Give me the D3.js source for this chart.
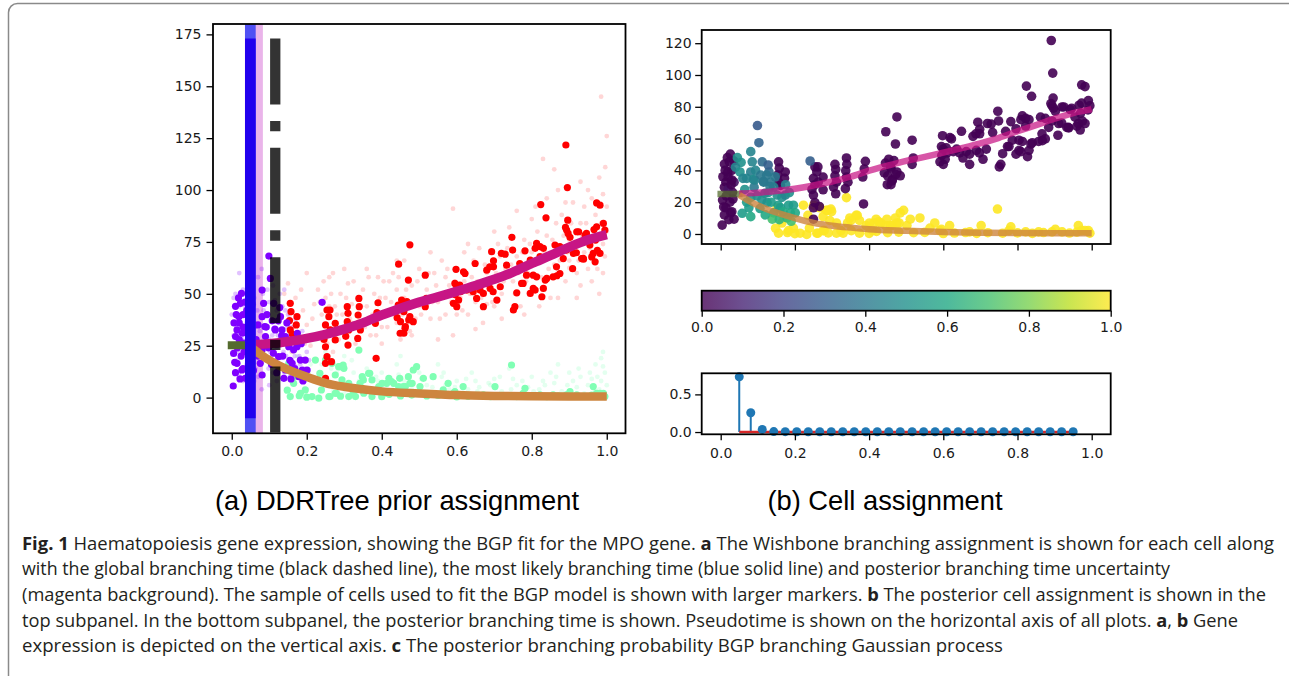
<!DOCTYPE html>
<html><head><meta charset="utf-8">
<script src="https://cdn.jsdelivr.net/npm/d3@7"></script>
<style>body{margin:0;background:#fff}svg{display:block}
.tk text{font-family:'DejaVu Sans',sans-serif !important;font-size:14px !important;fill:#1a1a1a}
</style>
</head><body><svg id="c" width="1289" height="676"></svg>
<script>
// ---------------- DATA ----------------
const xTicks = [0, 0.2, 0.4, 0.6, 0.8, 1.0];
const leftYTicks = [0, 25, 50, 75, 100, 125, 150, 175];
const rightYTicks = [0, 20, 40, 60, 80, 100, 120];
const stemYTicks = [0, 0.5];
const cbarTicks = [0, 0.2, 0.4, 0.6, 0.8, 1.0];

const globalBranchTime = 0.116;      // black dashed line (DDRTree)
const mapBranchTime = 0.0496;        // blue solid line
const lineSpan = [-10, 173];         // vertical extent of branching lines
const posteriorBand = [0.035, 0.083];// magenta background

const trunkTime = [0.0, 0.05];
const trunkExpr = [25.2, 25.2];
const upperTime = [0.05,0.1,0.15,0.2,0.25,0.3,0.35,0.4,0.45,0.5,0.55,0.6,0.65,0.7,0.75,0.8,0.85,0.9,0.95,1.0];
const upperExpr = [25.5,26,27,28.5,30.5,33,36,39.8,43,46,48.5,51.2,54,57,60.5,64.6,68.5,72.5,76,78.5];
const lowerTime = [0.05,0.075,0.1,0.125,0.15,0.2,0.25,0.3,0.35,0.4,0.5,0.6,0.7,0.8,0.9,1.0];
const lowerExpr = [24.5,21,18,15.5,13.5,10,7,5.2,4,3,2,1.2,0.8,0.6,0.5,0.5];

const stemTimes = [0.05,0.081,0.112,0.143,0.174,0.205,0.236,0.267,0.298,0.329,0.36,0.391,0.422,0.453,0.484,0.516,0.547,0.578,0.609,0.64,0.671,0.702,0.733,0.764,0.795,0.826,0.857,0.888,0.919,0.95];
const stemProb = [0.733,0.256,0.035,0.006,0.005,0.004,0.004,0.004,0.004,0.004,0.004,0.004,0.004,0.004,0.004,0.004,0.004,0.004,0.004,0.004,0.004,0.004,0.004,0.004,0.004,0.004,0.004,0.004,0.004,0.004];

// sampled cells (large markers): [pseudotime, expression, posterior prob]
const trunkCells = [
[0.099,68.2,0.28],[0.103,57.4,0.32],[0.026,50.2,0],[0.023,45.4,0],[0.019,39.0,0],[0.014,32.6,0],[0.010,29.4,0],[0.005,21.3,0],[0.014,16.5,0],[0.032,26.2,0],[0.036,32.6,0.05],[0.027,13.3,0],[0.036,9.3,0],[0.004,5.6,0],
[0.081,51.8,0.45],[0.085,45.4,0.45],[0.081,39.0,0.42],[0.088,34.2,0.5],[0.090,29.4,0.4],[0.081,23.0,0.55],[0.076,16.5,0.55],[0.081,10.9,0.6],
[0.112,45.4,0.35],[0.116,32.6,0.4],[0.130,39.0,0.35],[0.134,32.6,0.4],[0.143,29.4,0.45],[0.152,24.5,0.5],[0.165,23.0,0.5],[0.174,24.5,0.45],[0.183,18.1,0.55],[0.188,13.3,0.6],[0.196,18.1,0.55],[0.201,13.3,0.6],[0.179,10.1,0.65],[0.161,16.5,0.55],[0.143,13.3,0.6],[0.139,9.3,0.7],[0.125,19.7,0.5],[0.241,45.9,0.3],
[0.010,44,0],[0.020,36,0],[0.030,40,0],[0.015,24,0],[0.025,20,0],[0.030,14,0],[0.010,12,0],[0.035,46,0],[0.020,28,0.05],
[0.045,48,0.5],[0.055,45,0.5],[0.040,42,0.45],[0.052,39,0.5],[0.060,35,0.45],[0.065,28,0.5],[0.070,20,0.55],[0.058,13,0.55],[0.070,35,0.45],[0.092,34,0.45],[0.115,33,0.4],[0.128,43.4,0.3],[0.124,37,0.4],[0.133,29.8,0.4],[0.119,25.6,0.45],[0.111,21.4,0.5],
[0.006,36,0],[0.018,48,0],[0.028,31,0],[0.033,22,0],[0.008,17,0],[0.022,9,0],[0.03,34,0],[0.012,40,0],
[0.094,40,0.45],[0.098,24,0.5],[0.106,16,0.55],[0.108,37,0.4],[0.12,12,0.6],[0.128,26,0.5],[0.136,20,0.55],[0.147,36,0.4],[0.155,18,0.55],[0.168,14,0.6],[0.185,26,0.5],[0.19,8,0.7],[0.175,31,0.45],[0.158,9,0.65]
];
const upperProb = 0.0;
const upperCells = [
[0.156,45.4],[0.158,41.4],[0.154,37.1],[0.156,32.6],[0.161,30.6],[0.174,39.0],[0.172,35.0],
[0.254,42.2],[0.259,39.0],[0.250,35.0],[0.254,31.0],[0.250,24.5],[0.254,19.7],[0.250,16.5],[0.263,32.6],[0.276,35.8],[0.276,27.8],[0.250,9.3],[0.266,17.3],[0.262,42.2],[0.246,28],
[0.308,43.8],[0.310,40.6],[0.308,36.6],[0.312,32.6],[0.310,25.3],[0.304,29.5],
[0.339,47.8],[0.340,43.8],[0.337,39.8],[0.339,35.8],[0.343,32.6],[0.336,28.5],
[0.390,45.7],[0.387,40.9],[0.385,18.9],[0.383,35.8],
[0.445,64.3],[0.475,73.6],[0.444,44.6],[0.459,41.4],[0.450,36.6],[0.463,34.2],[0.472,37.4],[0.459,31.0],[0.471,56.6],[0.449,31.0],[0.467,46.2],[0.458,42.2],[0.475,39.0],[0.484,36.6],[0.462,33.4],[0.441,38.5],[0.453,47.0],
[0.516,59.0],[0.519,47.8],[0.516,43.8],
[0.595,55.0],[0.600,53.4],[0.591,45.4],[0.600,43.8],[0.596,49.5],[0.605,47.0],[0.610,51.0],[0.598,61.8],[0.608,54.2],
[0.618,60.6],[0.622,59.8],[0.627,51.8],[0.636,53.4],[0.644,51.0],[0.653,47.8],[0.649,64.6],[0.662,51.8],[0.671,50.2],[0.671,43.8],[0.680,61.4],[0.689,52.6],[0.693,70.3],[0.698,65.9],[0.698,63.0],[0.707,47.0],[0.716,53.4],[0.688,63.0],[0.697,51.0],[0.719,69.5],
[0.729,69.1],[0.733,63.8],[0.747,77.2],[0.749,71.1],[0.751,42.2],[0.755,43.8],[0.760,50.5],[0.773,55.0],[0.768,64.6],[0.777,55.0],[0.786,59.0],[0.782,70.7],[0.796,66.2],[0.796,50.2],[0.804,59.0],[0.804,52.6],
[0.809,71.9],[0.809,51.8],[0.813,74.3],[0.813,58.2],[0.822,72.7],[0.822,67.9],[0.824,93.0],[0.827,48.6],[0.831,71.9],[0.831,52.6],[0.836,56.6],[0.838,86.6],[0.840,57.4],[0.857,58.2],[0.862,73.5],[0.866,63.0],[0.867,58.7],[0.875,72.7],[0.875,59.8],[0.884,67.0],
[0.891,121.7],[0.895,101.2],[0.896,85.5],[0.893,80.7],[0.890,82.0],[0.893,71.1],[0.897,79.1],[0.902,77.2],[0.909,62.1],[0.911,69.5],[0.919,69.8],[0.920,79.9],[0.925,79.9],[0.933,67.0],[0.937,67.1],[0.938,66.7],[0.942,78.3],[0.946,79.1],
[0.955,73.5],[0.960,67.8],[0.964,69.5],[0.966,81.0],[0.969,65.4],[0.970,75.9],[0.973,93.8],[0.973,82.3],[0.982,92.7],[0.982,69.5],[0.975,71.0],[0.990,78.0],[0.991,83.9],[0.995,80.7]
];
const lowerProb = 1.0;
const lowerCells = [
[0.152,16.5],[0.161,13.3],[0.170,10.1],[0.165,6.9],[0.156,0.5],[0.183,2.1],[0.196,3.7],[0.214,0.5],[0.232,-0.3],[0.223,18.1],[0.250,18.1],[0.267,16.5],[0.285,14.9],[0.299,14.1],[0.276,10.9],[0.294,8.5],[0.312,6.9],[0.339,22.9],[0.348,10.1],[0.365,11.7],[0.374,8.5],[0.392,5.3],[0.401,6.9],[0.419,9.3],[0.432,6.9],[0.445,5.3],[0.463,5.3],[0.481,6.9],[0.259,0.5],[0.276,2.1],[0.312,0.5],[0.330,0.5],[0.352,2.1],[0.374,0.5],[0.410,2.1],
[0.288,14.9],[0.297,15.7],[0.235,11.7],[0.239,3.7],[0.262,0.5],[0.279,2.1],[0.324,2.1],[0.368,11.7],[0.351,8.5],[0.342,6.9],[0.413,6.9],[0.426,7.7],[0.448,9.3],[0.471,10.1],[0.484,13.3],[0.493,14.9],[0.475,6.9],[0.502,5.3],[0.457,5.3],[0.537,10.1],[0.577,6.9],[0.591,2.1],[0.617,5.3],[0.702,5.3],[0.746,15.7],[0.782,4.5],[0.777,2.1],[0.822,1.3],[0.857,1.3],[0.902,2.9],[0.964,5.3],[0.973,2.1],[0.991,2.1],[0.920,1.3],
[0.511,9.3],[0.564,3.7],[0.595,2.9],[0.671,1.3],[0.893,1.3],[0.982,2.1],
[0.520,0.8],[0.550,1.0],[0.630,0.6],[0.660,0.9],[0.690,0.4],[0.720,0.8],[0.760,0.5],[0.800,0.7],[0.840,0.4],[0.870,0.9],[0.940,0.6],[0.960,1.2],[0.995,0.5],[0.600,0.3],[0.450,0.8],[0.480,1.2],[0.400,0.4],[0.420,1.6],[0.290,0.7],[0.200,0.2],[0.180,0.9],[0.148,3.6]
];

// all cells (small faint markers), by DDRTree branch
const faintTrunk = [[0.0,40],[0.005,30],[0.01,50],[0.015,18],[0.02,60],[0.025,35],[0.03,8],[0.035,44],[0.04,25],[0.045,55],[0.05,15],[0.055,38],[0.06,48],[0.065,22],[0.07,58],[0.075,32],[0.08,4],[0.085,42],[0.09,18],[0.095,52],[0.1,28],[0.105,38],[0.11,12],[0.115,47],[0.12,24],[0.125,36],[0.13,16],[0.135,44],[0.14,30],[0.145,20],[0.15,40],[0.155,10],[0.16,34],[0.165,25],[0.17,15],[0.175,30],[0.18,20],[0.185,8],[0.19,26],[0.195,14],[0.2,22],[0.01,26],[0.02,12],[0.03,52],[0.04,36],[0.05,46],[0.06,28],[0.07,10],[0.08,62],[0.09,40],[0.1,6],[0.11,54],[0.12,42],[0.13,28],[0.14,52],[0.15,24],[0.16,18],[0.02,44],[0.04,16],[0.06,8],[0.08,26],[0.1,46],[0.12,8],[0.14,12],[0.17,38],[0.055,65],[0.03,22],[0.09,30],
[0.005,48],[0.012,34],[0.018,22],[0.028,28],[0.033,14],[0.038,50],[0.058,30],[0.068,42],[0.078,20],[0.088,34],[0.098,14],[0.108,30],[0.118,18],[0.128,50],[0.138,22],[0.148,34],[0.158,28],[0.168,20],[0.178,12],[0.188,32],[0.198,10],[0.206,18],[0.063,14],[0.083,50],[0.103,22],[0.123,30],[0.143,42],[0.163,8],[0.173,24],[0.183,16]];
const faintUpper = [[0.14,50],[0.15,55],[0.16,22],[0.17,48],[0.18,30],[0.19,42],[0.2,60],[0.21,25],[0.2,35],[0.22,45],[0.23,52],[0.24,28],[0.25,48],[0.26,58],[0.27,22],[0.28,40],[0.29,50],[0.3,30],[0.31,55],[0.32,45],[0.33,26],[0.34,38],[0.35,52],[0.26,44],[0.28,32],[0.3,62],[0.32,36],[0.24,40],[0.36,44],[0.37,30],[0.38,50],[0.39,58],[0.4,34],[0.41,48],[0.42,40],[0.43,60],[0.44,52],[0.45,28],[0.46,66],[0.47,44],[0.48,54],[0.49,38],[0.5,62],[0.44,36],[0.46,48],[0.48,30],[0.42,56],[0.5,44],[0.4,26],[0.52,52],[0.53,38],[0.54,60],[0.55,46],[0.56,66],[0.57,40],[0.58,54],[0.59,30],[0.6,62],[0.61,48],[0.62,70],[0.63,40],[0.64,58],[0.65,46],[0.66,72],[0.67,36],[0.68,60],[0.69,52],[0.7,66],[0.55,28],[0.6,40],[0.65,33],[0.7,44],[0.59,91],[0.62,56],[0.57,58],[0.64,50],[0.68,45],[0.71,74],[0.72,50],[0.73,62],[0.74,82],[0.75,56],[0.76,68],[0.77,44],[0.78,76],[0.79,60],[0.8,86],[0.81,52],[0.82,66],[0.83,115],[0.84,78],[0.85,48],[0.72,38],[0.78,40],[0.82,44],[0.76,90],[0.8,70],[0.74,58],[0.84,96],[0.86,110],[0.87,100],[0.86,64],[0.88,88],[0.89,56],[0.9,76],[0.91,94],[0.92,60],[0.93,84],[0.94,70],[0.95,100],[0.96,56],[0.97,88],[0.98,106],[0.99,74],[1.0,92],[1.0,126],[0.996,111],[0.92,48],[0.95,62],[0.98,50],[0.99,60],[0.97,70],[0.9,66],[0.88,72],[0.94,92],[1.0,80],[0.99,98],[0.87,48],[0.93,54],[0.985,145],[0.9,62.5],
[0.155,40],[0.165,34],[0.185,52],[0.195,26],[0.215,38],[0.225,30],[0.235,46],[0.245,56],[0.255,26],[0.265,50],[0.275,44],[0.285,28],[0.295,40],[0.305,48],[0.315,38],[0.325,56],[0.345,44],[0.355,34],[0.365,58],[0.375,40],[0.385,30],[0.395,48],[0.405,56],[0.415,34],[0.425,46],[0.435,42],[0.445,58],[0.455,40],[0.465,52],[0.475,32],[0.485,46],[0.495,56],[0.505,40],[0.515,48],[0.525,60],[0.535,46],[0.545,54],[0.555,38],[0.565,50],[0.575,62],[0.585,46],[0.595,56],[0.605,52],[0.615,42],[0.625,60],[0.635,50],[0.645,66],[0.655,56],[0.665,48],[0.675,64],[0.685,56],[0.695,46],[0.705,60],[0.715,68],[0.725,56],[0.735,72],[0.745,64],[0.755,50],[0.765,60],[0.775,70],[0.785,56],[0.795,74],[0.805,64],[0.815,80],[0.825,58],[0.835,70],[0.845,62],[0.855,76],[0.865,84],[0.875,66],[0.885,78],[0.895,70],[0.905,84],[0.915,74],[0.925,66],[0.935,78],[0.945,84],[0.955,72],[0.965,80],[0.975,62],[0.985,84],[0.995,68],[0.96,96],[0.93,104],[0.89,94],[0.81,92],[0.7,80],[0.63,74],[0.53,70],[0.44,66],[0.36,62],[0.27,60]];
const faintLower = [[0.16,8],[0.18,14],[0.2,4],[0.22,10],[0.24,16],[0.26,6],[0.28,12],[0.3,2],[0.32,18],[0.34,8],[0.36,14],[0.38,4],[0.4,12],[0.42,2],[0.44,16],[0.46,8],[0.48,4],[0.5,12],[0.52,6],[0.54,2],[0.56,10],[0.58,4],[0.6,8],[0.62,2],[0.64,12],[0.66,5],[0.68,1],[0.7,9],[0.72,3],[0.74,14],[0.76,6],[0.78,2],[0.8,10],[0.82,4],[0.84,1],[0.86,7],[0.88,3],[0.9,12],[0.92,5],[0.94,2],[0.96,9],[0.97,16],[0.98,4],[0.99,22],[1.0,6],[0.995,12],[0.985,8],[0.97,3],[0.95,6],[0.93,10],[0.25,22],[0.3,20],[0.35,10],[0.45,20],[0.55,16],[0.65,8],[0.75,9],[0.85,12],[0.87,16],[0.91,8],[0.21,16],[0.27,3],[0.33,1],[0.39,8],[0.43,6],[0.49,2],[0.57,6],[0.63,4],[0.69,6],[0.79,5],[0.83,8],[0.89,2],
[0.175,20],[0.205,12],[0.235,8],[0.265,14],[0.295,6],[0.325,12],[0.355,4],[0.385,10],[0.415,6],[0.445,11],[0.475,3],[0.505,9],[0.535,5],[0.565,12],[0.595,5],[0.625,9],[0.655,3],[0.685,7],[0.715,10],[0.745,4],[0.775,8],[0.805,3],[0.835,6],[0.865,10],[0.895,6],[0.925,14],[0.955,12],[0.975,10],[0.99,15],[0.985,19]];

const branchColors = {trunk: "#8000ff", lower: "#80ffb4", upper: "#ff0000"};

const titleA = "(a) DDRTree prior assignment";
const titleB = "(b) Cell assignment";
const captionLines = [
  [["Fig. 1", true], [" Haematopoiesis gene expression, showing the BGP fit for the MPO gene. ", false], ["a", true], [" The Wishbone branching assignment is shown for each cell along", false]],
  [["with the global branching time (black dashed line), the most likely branching time (blue solid line) and posterior branching time uncertainty", false]],
  [["(magenta background). The sample of cells used to fit the BGP model is shown with larger markers. ", false], ["b", true], [" The posterior cell assignment is shown in the", false]],
  [["top subpanel. In the bottom subpanel, the posterior branching time is shown. Pseudotime is shown on the horizontal axis of all plots. ", false], ["a", true], [", ", false], ["b", true], [" Gene", false]],
  [["expression is depicted on the vertical axis. ", false], ["c", true], [" The posterior branching probability BGP branching Gaussian process", false]]
];
const captionWidths = [1252, 1148, 1244, 1216, 981];

// ---------------- DRAWING ----------------
const svg = d3.select("#c");

// frame
svg.append("rect").attr("x", 8.5).attr("y", 3.5).attr("width", 1290).attr("height", 720)
  .attr("rx", 9).attr("fill", "none").attr("stroke", "#8a8a8a").attr("stroke-width", 1.5);

function styleAxis(g) {
  g.attr("class", "tk").attr("font-family", null).attr("font-size", null);
  g.select(".domain").remove();
  g.selectAll(".tick line").attr("stroke", "#000").attr("stroke-width", 1.3);
}
function spines(g, b) {
  g.append("rect").attr("x", b.x0).attr("y", b.y0).attr("width", b.x1 - b.x0).attr("height", b.y1 - b.y0)
    .attr("fill", "none").attr("stroke", "#000").attr("stroke-width", 1.8);
}

// ===== Left panel =====
const L = {x0: 213, x1: 625.5, y0: 24, y1: 433.3};
const xL = d3.scaleLinear([-0.05, 1.05], [L.x0, L.x1]);
const yL = d3.scaleLinear([-17.2, 180], [L.y1, L.y0]);
const defs = svg.append("defs");
defs.append("clipPath").attr("id", "clipL").append("rect")
  .attr("x", L.x0).attr("y", L.y0).attr("width", L.x1 - L.x0).attr("height", L.y1 - L.y0);
const gL = svg.append("g").attr("clip-path", "url(#clipL)");

// posterior uncertainty band
gL.append("rect").attr("x", xL(posteriorBand[0])).attr("width", xL(posteriorBand[1]) - xL(posteriorBand[0]))
  .attr("y", L.y0).attr("height", L.y1 - L.y0).attr("fill", "#eab4ea");

// faint points
const faintSets = [[faintUpper, branchColors.upper, 0.16], [faintLower, branchColors.lower, 0.22], [faintTrunk, branchColors.trunk, 0.24]];
faintSets.forEach(([pts, col, op]) => {
  gL.append("g").selectAll("circle").data(pts).join("circle")
    .attr("cx", d => xL(d[0])).attr("cy", d => yL(d[1])).attr("r", 2.4)
    .attr("fill", col).attr("opacity", op);
});
// large points
[[lowerCells, branchColors.lower], [upperCells, branchColors.upper], [trunkCells, branchColors.trunk]].forEach(([pts, col]) => {
  gL.append("g").selectAll("circle").data(pts).join("circle")
    .attr("cx", d => xL(d[0])).attr("cy", d => yL(d[1])).attr("r", 3.6).attr("fill", col);
});

// GP mean curves
function curve(g, times, exprs, xs, ys, color, w, op, cap) {
  const pts = times.map((t, i) => [t, exprs[i]]);
  g.append("path").datum(pts)
    .attr("d", d3.line().x(d => xs(d[0])).y(d => ys(d[1])).curve(d3.curveMonotoneX))
    .attr("fill", "none").attr("stroke", color).attr("stroke-width", w).attr("opacity", op)
    .attr("stroke-linecap", cap || "butt");
}
curve(gL, trunkTime, trunkExpr, xL, yL, "#556b2f", 8, 1, "square");
curve(gL, upperTime, upperExpr, xL, yL, "#c71585", 9.5, 1);
curve(gL, lowerTime, lowerExpr, xL, yL, "#cd853f", 8.5, 1);

// most likely branching time (blue)
gL.append("line").attr("x1", xL(mapBranchTime)).attr("x2", xL(mapBranchTime)).attr("y1", L.y0).attr("y2", L.y1)
  .attr("stroke", "#5050f4").attr("stroke-width", 10.7);
gL.append("line").attr("x1", xL(mapBranchTime)).attr("x2", xL(mapBranchTime))
  .attr("y1", yL(lineSpan[1])).attr("y2", yL(lineSpan[0]))
  .attr("stroke", "#2200ee").attr("stroke-width", 10.7);
// global branching time (black dash-dot)
gL.append("line").attr("x1", xL(globalBranchTime)).attr("x2", xL(globalBranchTime))
  .attr("y1", yL(lineSpan[1])).attr("y2", L.y1 + 5)
  .attr("stroke", "#000").attr("stroke-opacity", 0.8).attr("stroke-width", 10.3)
  .attr("stroke-dasharray", "66,16.5,10.3,16.5");

const axLy = svg.append("g").attr("transform", `translate(${L.x0},0)`)
  .call(d3.axisLeft(yL).tickValues(leftYTicks).tickFormat(d3.format("d")).tickSize(6.5).tickPadding(5));
styleAxis(axLy);
const axLx = svg.append("g").attr("transform", `translate(0,${L.y1})`)
  .call(d3.axisBottom(xL).tickValues(xTicks).tickFormat(d3.format(".1f")).tickSize(6.5).tickPadding(6));
styleAxis(axLx);
spines(svg, L);

// ===== Right top panel =====
const R = {x0: 701.7, x1: 1110.7, y0: 30, y1: 244};
const xR = d3.scaleLinear([-0.0512, 1.0512], [R.x0, R.x1]);
const yR = d3.scaleLinear([-6.3, 128.3], [R.y1, R.y0]);
defs.append("clipPath").attr("id", "clipR").append("rect")
  .attr("x", R.x0).attr("y", R.y0).attr("width", R.x1 - R.x0).attr("height", R.y1 - R.y0);
const gR = svg.append("g").attr("clip-path", "url(#clipR)");
const viridis = d3.interpolateViridis;
const allCells = [
  ...lowerCells.map(d => [d[0], d[1], lowerProb]),
  ...upperCells.map(d => [d[0], d[1], upperProb]),
  ...trunkCells
];
gR.append("g").selectAll("circle").data(allCells).join("circle")
  .attr("cx", d => xR(d[0])).attr("cy", d => yR(d[1])).attr("r", 4.8)
  .attr("fill", d => viridis(d[2])).attr("opacity", 0.9);
curve(gR, trunkTime, trunkExpr, xR, yR, "#556b2f", 6.5, 0.75, "square");
curve(gR, upperTime, upperExpr, xR, yR, "#c71585", 6.5, 0.72);
curve(gR, lowerTime, lowerExpr, xR, yR, "#cd853f", 6.5, 0.8);

const axRy = svg.append("g").attr("transform", `translate(${R.x0},0)`)
  .call(d3.axisLeft(yR).tickValues(rightYTicks).tickFormat(d3.format("d")).tickSize(6.5).tickPadding(3.5));
styleAxis(axRy);
const axRx = svg.append("g").attr("transform", `translate(0,${R.y1})`)
  .call(d3.axisBottom(xR).tickValues(xTicks).tickFormat("").tickSize(6.5));
styleAxis(axRx);
spines(svg, R);

// ===== Colorbar =====
const C = {x0: 701.7, x1: 1110.7, y0: 290.7, y1: 310.7};
const xC = d3.scaleLinear([0, 1], [C.x0, C.x1]);
const grad = defs.append("linearGradient").attr("id", "vir").attr("x1", "0%").attr("x2", "100%");
cbarTicks.concat([0.1, 0.3, 0.5, 0.7, 0.9]).sort((a, b) => a - b)
  .forEach(t => grad.append("stop").attr("offset", (t * 100) + "%").attr("stop-color", viridis(t)));
svg.append("rect").attr("x", C.x0).attr("y", C.y0).attr("width", C.x1 - C.x0).attr("height", C.y1 - C.y0)
  .attr("fill", "url(#vir)").attr("opacity", 0.8);
const axC = svg.append("g").attr("transform", `translate(0,${C.y1})`)
  .call(d3.axisBottom(xC).tickValues(cbarTicks).tickFormat(d3.format(".1f")).tickSize(6).tickPadding(5));
styleAxis(axC);
spines(svg, C);

// ===== Stem panel =====
const S = {x0: 701.7, x1: 1110.7, y0: 373.3, y1: 434.3};
const xS = d3.scaleLinear([-0.0512, 1.0512], [S.x0, S.x1]);
const yS = d3.scaleLinear([-0.03, 0.78], [S.y1, S.y0]);
const stems = stemTimes.map((t, i) => [t, stemProb[i]]);
svg.append("g").selectAll("line").data(stems).join("line")
  .attr("x1", d => xS(d[0])).attr("x2", d => xS(d[0])).attr("y1", yS(0)).attr("y2", d => yS(d[1]))
  .attr("stroke", "#1f77b4").attr("stroke-width", 2);
svg.append("line").attr("x1", xS(stemTimes[0])).attr("x2", xS(stemTimes[stemTimes.length - 1]))
  .attr("y1", yS(0)).attr("y2", yS(0)).attr("stroke", "#d62728").attr("stroke-width", 2.5);
svg.append("g").selectAll("circle").data(stems).join("circle")
  .attr("cx", d => xS(d[0])).attr("cy", d => yS(d[1])).attr("r", 4.5).attr("fill", "#1f77b4");
const axSy = svg.append("g").attr("transform", `translate(${S.x0},0)`)
  .call(d3.axisLeft(yS).tickValues(stemYTicks).tickFormat(d3.format(".1f")).tickSize(6.5).tickPadding(3.5));
styleAxis(axSy);
const axSx = svg.append("g").attr("transform", `translate(0,${S.y1})`)
  .call(d3.axisBottom(xS).tickValues(xTicks).tickFormat(d3.format(".1f")).tickSize(6).tickPadding(7.5));
styleAxis(axSx);
spines(svg, S);

// ===== Titles =====
svg.append("text").attr("x", 397).attr("y", 510).attr("text-anchor", "middle")
  .style("font-family", "'Liberation Sans', Arial, sans-serif").attr("font-size", 27.3).attr("fill", "#000").text(titleA);
svg.append("text").attr("x", 885).attr("y", 510).attr("text-anchor", "middle")
  .style("font-family", "'Liberation Sans', Arial, sans-serif").attr("font-size", 27.3).attr("fill", "#000").text(titleB);

// ===== Caption =====
const capBase = [550, 575, 601, 627, 652];
captionLines.forEach((segs, i) => {
  const t = svg.append("text").attr("x", 22).attr("y", capBase[i])
    .style("font-family", "'Open Sans', Lato, sans-serif").attr("font-size", 18).attr("fill", "#231f20")
    .attr("textLength", captionWidths[i]).attr("lengthAdjust", "spacingAndGlyphs");
  segs.forEach(([s, b]) => t.append("tspan").attr("font-weight", b ? "bold" : "normal").text(s));
});
</script></body></html>
